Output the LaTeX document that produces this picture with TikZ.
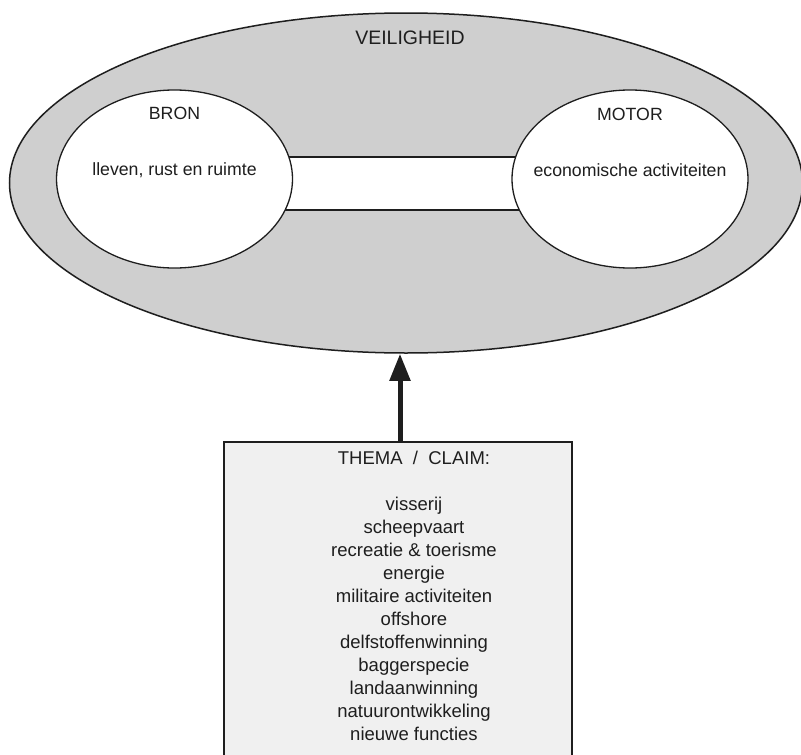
\documentclass[tikz,border=0pt]{standalone}
\usepackage{fontspec}
\setmainfont{Liberation Sans}
\usetikzlibrary{shapes.geometric,arrows.meta}

\definecolor{zonegray}{HTML}{CFCFCF}
\definecolor{boxgray}{HTML}{F0F0F0}
\definecolor{inkline}{HTML}{1E1E1E}

\tikzset{
  zone/.style={ellipse, draw=inkline, line width=1.5pt, fill=zonegray, inner sep=0pt},
  pole/.style={ellipse, draw=inkline, line width=1.3pt, fill=white, inner sep=0pt,
               minimum width=236pt, minimum height=178pt},
  label/.style={inner sep=0pt, text=inkline},
  claimbox/.style={draw=inkline, line width=1.5pt, fill=boxgray, inner sep=0pt},
  push/.style={-{Triangle[length=27pt,width=20pt]}, line width=5pt, draw=inkline}
}

\begin{document}
\begin{tikzpicture}[x=1pt,y=-1pt]
  \clip (0,0) rectangle (801,755);
  \fill[white] (0,0) rectangle (801,755);

  % outer zone: safety
  \node[zone, minimum width=793pt, minimum height=340pt] (veil) at (406,183) {};
  \node[label, font=\fontsize{19.5}{22}\selectfont] (veiltxt) at (410,38) {VEILIGHEID};

  % link between the two poles
  \coordinate (linkA) at (200,157);
  \coordinate (linkB) at (600,157);
  \coordinate (linkC) at (600,210);
  \coordinate (linkD) at (200,210);
  \fill[white] (linkA) rectangle (linkC);
  \draw[inkline, line width=1.3pt] (linkA) -- (linkB) (linkD) -- (linkC);

  % the two poles
  \node[pole] (bron) at (174.5,179) {};
  \node[pole] (motor) at (630,179) {};
  \node[label, font=\fontsize{17.7}{21}\selectfont] (brontitle) at (174.5,113) {BRON};
  \node[label, font=\fontsize{17.7}{21}\selectfont] (brontxt) at (174.5,170) {lleven, rust en ruimte};
  \node[label, font=\fontsize{17.7}{21}\selectfont] (motortitle) at (630,114) {MOTOR};
  \node[label, font=\fontsize{17.7}{21}\selectfont] (motortxt) at (630,170) {economische activiteiten};

  % themes / claims
  \node[claimbox, minimum width=348pt, minimum height=360pt, anchor=north] (claims) at (398,441) {};
  \node[label, anchor=north, align=center, font=\fontsize{18.5}{23}\selectfont] (claimtxt) at (414,451)
    {THEMA\ \ /\ \ CLAIM:\\[23pt]
     visserij\\
     scheepvaart\\
     recreatie \& toerisme\\
     energie\\
     militaire activiteiten\\
     offshore\\
     delfstoffenwinning\\
     baggerspecie\\
     landaanwinning\\
     natuurontwikkeling\\
     nieuwe functies};

  % claims push on the zone
  \coordinate (pushfoot) at ([xshift=2pt]claims.north);
  \draw[push] (pushfoot) -- (pushfoot |- veil.south);
\end{tikzpicture}
\end{document}
